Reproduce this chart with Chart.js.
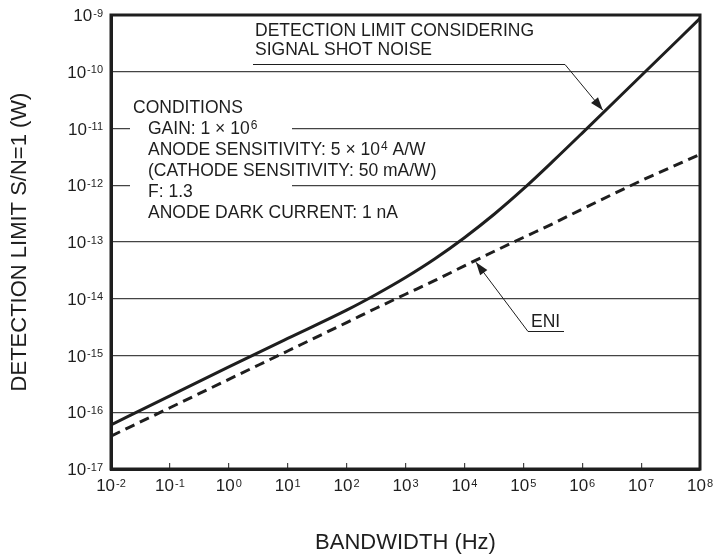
<!DOCTYPE html>
<html>
<head>
<meta charset="utf-8">
<script src="https://cdn.jsdelivr.net/npm/chart.js@4.4.1/dist/chart.umd.min.js"></script>
<style>
  body { margin: 0; background: #fff; }
</style>
</head>
<body>
<canvas id="myChart" width="715" height="554"></canvas>
<script>
// bandwidth (Hz) and detection limits (W)
var bandwidth = [1e-2, 1e-1, 1e0, 1e1, 1e2, 316, 1e3, 3162, 1e4, 31623, 1e5, 316228, 1e6, 1e7, 1e8];
var shotNoiseLimit = [6.0e-17, 1.95e-16, 6.3e-16, 2.0e-15, 6.3e-15, 1.19e-14, 2.37e-14, 5.07e-14, 1.19e-13, 3.05e-13, 8.6e-13, 2.63e-12, 8.3e-12, 8.5e-11, 8.7e-10];
var eniLimit = [3.8e-17, 1.2e-16, 3.8e-16, 1.2e-15, 3.8e-15, 6.8e-15, 1.2e-14, 2.1e-14, 3.8e-14, 6.8e-14, 1.2e-13, 2.1e-13, 3.8e-13, 1.2e-12, 3.5e-12];

var xTicks = [1e-2, 1e-1, 1e0, 1e1, 1e2, 1e3, 1e4, 1e5, 1e6, 1e7, 1e8];
var xTickExp = ['-2', '-1', '0', '1', '2', '3', '4', '5', '6', '7', '8'];
var yTicks = [1e-17, 1e-16, 1e-15, 1e-14, 1e-13, 1e-12, 1e-11, 1e-10, 1e-9];
var yTickExp = ['-17', '-16', '-15', '-14', '-13', '-12', '-11', '-10', '-9'];

var conditions = [
    'CONDITIONS',
    'GAIN: 1 × 10^6',
    'ANODE SENSITIVITY: 5 × 10^4 A/W',
    '(CATHODE SENSITIVITY: 50 mA/W)',
    'F: 1.3',
    'ANODE DARK CURRENT: 1 nA'
];

var INK = '#1e1e1e';
var FONT = '"Liberation Sans", Arial, Helvetica, sans-serif';
Chart.defaults.font.family = FONT;
Chart.defaults.color = INK;

// text with a raised exponent, "10^6" style
function richText(ctx, str, x, y, size, align) {
    var parts = str.split(/\^(-?\d+)/);
    var big = size + 'px ' + FONT, small = Math.round(size * 0.66) + 'px ' + FONT;
    var w = 0;
    for (var i = 0; i < parts.length; i++) {
        ctx.font = i % 2 ? small : big;
        w += ctx.measureText(parts[i]).width + (i % 2 ? 1 : 0);
    }
    if (align == 'center') x -= w / 2;
    if (align == 'right') x -= w;
    ctx.textAlign = 'left';
    ctx.textBaseline = 'alphabetic';
    for (var j = 0; j < parts.length; j++) {
        ctx.font = j % 2 ? small : big;
        if (j % 2) x += 1;
        ctx.fillText(parts[j], x, j % 2 ? y - size * 0.26 : y);
        x += ctx.measureText(parts[j]).width;
    }
}

function arrow(ctx, x1, y1, x2, y2) {
    ctx.beginPath();
    ctx.moveTo(x1, y1);
    ctx.lineTo(x2, y2);
    ctx.stroke();
    var a = Math.atan2(y2 - y1, x2 - x1);
    var len = 13, w = 4.5;
    ctx.beginPath();
    ctx.moveTo(x2, y2);
    ctx.lineTo(x2 - len * Math.cos(a) + w * Math.sin(a), y2 - len * Math.sin(a) - w * Math.cos(a));
    ctx.lineTo(x2 - len * Math.cos(a) - w * Math.sin(a), y2 - len * Math.sin(a) + w * Math.cos(a));
    ctx.closePath();
    ctx.fill();
}

var annotations = {
    id: 'annotations',
    beforeDatasetsDraw: function (chart) {
        // white box behind the conditions text hides the grid lines
        var ctx = chart.ctx, a = chart.chartArea;
        ctx.save();
        ctx.fillStyle = '#fff';
        ctx.fillRect(a.left + 19, 95, 162, 130);
        ctx.restore();
    },
    afterDatasetsDraw: function (chart) {
        var ctx = chart.ctx, a = chart.chartArea;
        var xs = chart.scales.x, ys = chart.scales.y;
        ctx.save();
        ctx.fillStyle = INK;
        ctx.strokeStyle = INK;

        for (var i = 0; i < conditions.length; i++) {
            richText(ctx, conditions[i], a.left + (i == 0 ? 22 : 37), 113 + i * 20.9, 17.5, 'left');
        }

        ctx.font = '17.5px ' + FONT;
        ctx.textAlign = 'left';
        ctx.textBaseline = 'alphabetic';
        ctx.fillText('DETECTION LIMIT CONSIDERING', 255, 36);
        ctx.fillText('SIGNAL SHOT NOISE', 255, 55);
        ctx.fillText('ENI', 531, 327);

        ctx.lineWidth = 1;
        ctx.beginPath();
        ctx.moveTo(253, 64.5);
        ctx.lineTo(565, 64.5);
        ctx.stroke();
        arrow(ctx, 565, 64.5, xs.getPixelForValue(2.24e6), ys.getPixelForValue(2.1e-11));

        ctx.beginPath();
        ctx.moveTo(564, 331.5);
        ctx.lineTo(528, 331.5);
        ctx.stroke();
        arrow(ctx, 528, 331.5, xs.getPixelForValue(1.57e4), ys.getPixelForValue(4.4e-14));

        ctx.restore();
    },
    afterDraw: function (chart) {
        var ctx = chart.ctx, a = chart.chartArea;
        var xs = chart.scales.x, ys = chart.scales.y;
        ctx.save();
        ctx.strokeStyle = INK;
        ctx.lineWidth = 3;
        ctx.strokeRect(a.left, a.top, a.right - a.left, a.bottom - a.top);

        // decade tick labels at the scale positions
        ctx.fillStyle = INK;
        xs.ticks.forEach(function (t, i) {
            richText(ctx, '10^' + xTickExp[i], xs.getPixelForValue(t.value), a.bottom + 22, 17, 'center');
        });
        ys.ticks.forEach(function (t, i) {
            richText(ctx, '10^' + yTickExp[i], a.left - 8, ys.getPixelForValue(t.value) + 6, 17, 'right');
        });
        ctx.restore();
    }
};

var ctx = document.getElementById('myChart').getContext('2d');
var myChart = new Chart(ctx, {
    type: 'line',
    data: {
        datasets: [{
            label: 'DETECTION LIMIT CONSIDERING SIGNAL SHOT NOISE',
            data: bandwidth.map(function (b, i) { return { x: b, y: shotNoiseLimit[i] }; }),
            borderColor: INK,
            borderWidth: 3,
            pointRadius: 0,
            fill: false,
            cubicInterpolationMode: 'monotone'
        }, {
            label: 'ENI',
            data: bandwidth.map(function (b, i) { return { x: b, y: eniLimit[i] }; }),
            borderColor: INK,
            borderWidth: 3,
            borderDash: [10, 6],
            pointRadius: 0,
            fill: false,
            cubicInterpolationMode: 'monotone'
        }]
    },
    options: {
        responsive: false,
        animation: false,
        layout: { padding: { left: 0, right: 15, top: 15, bottom: 0 } },
        plugins: {
            legend: { display: false },
            tooltip: { enabled: false }
        },
        scales: {
            x: {
                type: 'logarithmic',
                min: 1e-2,
                max: 1e8,
                afterBuildTicks: function (scale) {
                    scale.ticks = xTicks.map(function (v) { return { value: v }; });
                },
                afterFit: function (scale) {
                    scale.height = 85;
                    scale.paddingLeft = 0;
                    scale.paddingRight = 0;
                },
                ticks: { display: false },
                grid: {
                    drawOnChartArea: false,
                    drawTicks: true,
                    tickLength: -6,
                    color: '#444',
                    lineWidth: 1.2
                },
                border: { display: true, color: INK, width: 3 },
                title: {
                    display: true,
                    text: 'BANDWIDTH (Hz)',
                    font: { size: 22, lineHeight: 1 },
                    padding: { top: 0, bottom: 0 }
                }
            },
            y: {
                type: 'logarithmic',
                min: 1e-17,
                max: 1e-9,
                afterBuildTicks: function (scale) {
                    scale.ticks = yTicks.map(function (v) { return { value: v }; });
                },
                afterFit: function (scale) {
                    scale.width = 111;
                    scale.paddingTop = 0;
                    scale.paddingBottom = 0;
                },
                ticks: { display: false },
                grid: {
                    drawTicks: false,
                    color: '#444',
                    lineWidth: 1.2
                },
                border: { display: true, color: INK, width: 3 },
                title: {
                    display: true,
                    text: 'DETECTION LIMIT S/N=1 (W)',
                    font: { size: 22, lineHeight: 1 },
                    padding: { top: 9, bottom: 0 }
                }
            }
        }
    },
    plugins: [annotations]
});
</script>
</body>
</html>
